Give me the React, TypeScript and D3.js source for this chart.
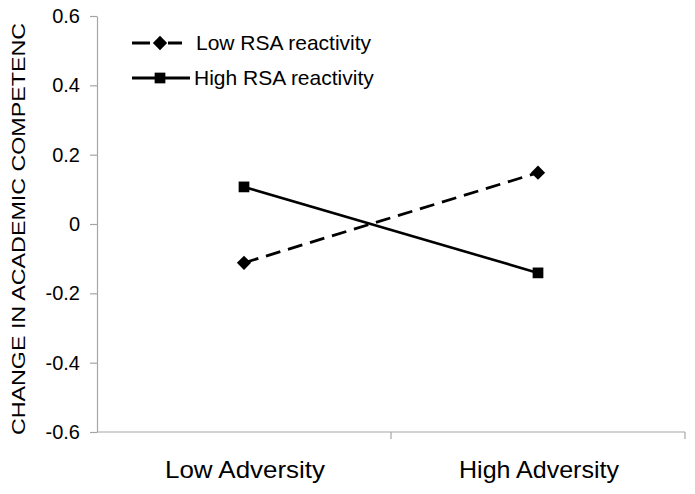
import React, { useRef, useEffect } from 'react';
import * as d3 from 'd3';

const categories = ['Low Adversity', 'High Adversity'];
const lowRsa = [-0.112, 0.148];
const highRsa = [0.107, -0.141];
const yTicks = [-0.6, -0.4, -0.2, 0, 0.2, 0.4, 0.6];
const seriesNames = ['Low RSA reactivity', 'High RSA reactivity'];
const yTitle = 'CHANGE IN ACADEMIC COMPETENC';

const FONT = '"Liberation Sans", Arial, sans-serif';

const App = () => {
  const svgRef = useRef<SVGSVGElement>(null);

  useEffect(() => {
    const W = 695;
    const H = 494;
    const margin = { top: 16, right: 10, bottom: 62, left: 97 };
    const svg = d3.select(svgRef.current)
      .attr('width', W)
      .attr('height', H);
    svg.selectAll('*').remove();

    const x = d3.scaleBand()
      .domain(categories)
      .range([margin.left, W - margin.right])
      .padding(0);
    const y = d3.scaleLinear()
      .domain([-0.6, 0.6])
      .range([H - margin.bottom, margin.top]);
    const axisColor = '#a6a6a6';

    // y axis
    const yAxis = svg.append('g')
      .attr('transform', `translate(${margin.left},0)`)
      .call(d3.axisLeft(y).tickValues(yTicks).tickSize(7).tickSizeOuter(0).tickPadding(10)
        .tickFormat(d => (d === 0 ? '0' : (d as number).toFixed(1))));
    yAxis.select('.domain').attr('stroke', axisColor).attr('stroke-width', 1.2);
    yAxis.selectAll('.tick line').attr('stroke', axisColor).attr('stroke-width', 1.2);
    yAxis.selectAll('.tick text')
      .attr('fill', '#000')
      .style('font-family', FONT)
      .style('font-size', '20px');

    // x axis
    const y0 = y(-0.6);
    const xAxis = svg.append('g');
    xAxis.append('line')
      .attr('x1', margin.left).attr('x2', W - margin.right)
      .attr('y1', y0).attr('y2', y0)
      .attr('stroke', axisColor).attr('stroke-width', 1.2);
    xAxis.selectAll('.xtick')
      .data(categories)
      .join('line')
      .attr('class', 'xtick')
      .attr('x1', d => (x(d) as number) + x.bandwidth())
      .attr('x2', d => (x(d) as number) + x.bandwidth())
      .attr('y1', y0).attr('y2', y0 + 7)
      .attr('stroke', axisColor).attr('stroke-width', 1.2);
    xAxis.selectAll('.xlabel')
      .data(categories)
      .join('text')
      .attr('class', 'xlabel')
      .attr('x', d => (x(d) as number) + x.bandwidth() / 2 + 1)
      .attr('y', y0 + 46)
      .attr('text-anchor', 'middle')
      .attr('textLength', 160)
      .attr('lengthAdjust', 'spacingAndGlyphs')
      .style('font-family', FONT)
      .style('font-size', '24px')
      .text(d => d);

    // y title
    svg.append('text')
      .attr('transform', `translate(25,${(y(0.6) + y(-0.6)) / 2 + 5}) rotate(-90)`)
      .attr('text-anchor', 'middle')
      .attr('textLength', 412)
      .attr('lengthAdjust', 'spacingAndGlyphs')
      .style('font-family', FONT)
      .style('font-size', '18px')
      .text(yTitle);

    const cx = (d: string) => (x(d) as number) + x.bandwidth() / 2;
    const line = d3.line<[string, number]>()
      .x(d => cx(d[0]))
      .y(d => y(d[1]));

    const lowPts = categories.map((c, i) => [c, lowRsa[i]] as [string, number]);
    const highPts = categories.map((c, i) => [c, highRsa[i]] as [string, number]);

    svg.append('path')
      .attr('d', line(highPts))
      .attr('fill', 'none')
      .attr('stroke', '#000')
      .attr('stroke-width', 2.6);
    svg.append('path')
      .attr('d', line(lowPts))
      .attr('fill', 'none')
      .attr('stroke', '#000')
      .attr('stroke-width', 2.8)
      .attr('stroke-dasharray', '15,8');

    const diamond = d3.symbol().type(d3.symbolDiamond2).size(130);
    const square = d3.symbol().type(d3.symbolSquare).size(115);

    svg.selectAll('.low-pt')
      .data(lowPts)
      .join('path')
      .attr('class', 'low-pt')
      .attr('d', diamond())
      .attr('transform', d => `translate(${cx(d[0])},${y(d[1])})`)
      .attr('fill', '#000');
    svg.selectAll('.high-pt')
      .data(highPts)
      .join('path')
      .attr('class', 'high-pt')
      .attr('d', square())
      .attr('transform', d => `translate(${cx(d[0])},${y(d[1])})`)
      .attr('fill', '#000');

    // legend
    const legend = svg.append('g').attr('transform', 'translate(132,43)');
    seriesNames.forEach((name, i) => {
      const g = legend.append('g').attr('transform', `translate(0,${i * 35})`);
      g.append('line')
        .attr('x1', 0).attr('x2', i === 0 ? 50 : 58)
        .attr('y1', 0).attr('y2', 0)
        .attr('stroke', '#000')
        .attr('stroke-width', 2.8)
        .attr('stroke-dasharray', i === 0 ? '18,18,14' : null);
      g.append('path')
        .attr('d', i === 0 ? diamond() : square())
        .attr('transform', 'translate(28,0)')
        .attr('fill', '#000');
      g.append('text')
        .attr('x', i === 0 ? 64 : 62)
        .attr('y', 0)
        .attr('dy', '0.35em')
        .style('font-family', FONT)
        .style('font-size', '21px')
        .text(name);
    });

    return () => {
      svg.selectAll('*').remove();
    };
  }, []);

  return (
    <svg ref={svgRef} style={{ position: 'absolute', left: 0, top: 0, background: '#fff' }}></svg>
  );
};

export default App;
